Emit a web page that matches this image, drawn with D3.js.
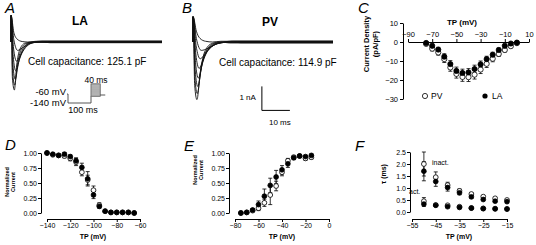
<!DOCTYPE html>
<html>
<head>
<meta charset="utf-8">
<script src="https://cdn.jsdelivr.net/npm/d3@7"></script>
<style>
body { margin: 0; background: #fff; }
svg { font-family: "Liberation Sans", Arial, sans-serif; }
.axis path, .axis line { stroke: #000; stroke-width: 1; }
.axis text { fill: #000; }
</style>
</head>
<body>
<svg id="fig" width="536" height="245"></svg>
<script>
// ---- data ----
// current traces, [ms, nA] points read off panels A and B
var laTraces = [
  [[0,0],[0.05,1.1],[1.0,0.4],[2.2,0.12],[4,0.02],[6,0]],
  [[0,0],[0.05,1.1],[1.0,0.1],[2.4,-0.35],[4.0,-0.25],[6.4,-0.08],[10,0]],
  [[0,0],[0.05,1.1],[0.9,-0.25],[2.0,-0.8],[3.6,-0.5],[5.7,-0.17],[8.5,-0.02],[12,0]],
  [[0,0],[0.05,1.1],[0.8,-0.6],[1.7,-1.2],[3.1,-0.7],[5,-0.22],[7.5,-0.03],[11,0]],
  [[0,0],[0.05,1.1],[0.7,-0.95],[1.5,-1.55],[2.7,-0.85],[4.3,-0.28],[6.6,-0.04],[10,0]],
  [[0,0],[0.05,1.1],[0.6,-1.25],[1.3,-1.8],[2.3,-0.95],[3.7,-0.3],[5.8,-0.05],[9,0]],
  [[0,0],[0.05,1.1],[0.5,-1.5],[1.2,-2.0],[2.0,-1.0],[3.2,-0.3],[5,-0.05],[8,0]]
];
var pvTraces = [
  [[0,0],[0.05,1.05],[1.2,0.45],[2.5,0.15],[4.5,0.03],[7,0]],
  [[0,0],[0.05,1.05],[1.2,0.15],[3.0,-0.35],[5.0,-0.28],[8,-0.1],[12,0]],
  [[0,0],[0.05,1.05],[1.1,-0.15],[2.6,-0.7],[4.5,-0.45],[7.2,-0.15],[11,-0.02],[15,0]],
  [[0,0],[0.05,1.05],[1.0,-0.5],[2.2,-1.1],[4.0,-0.6],[6.6,-0.2],[10,-0.03],[14,0]],
  [[0,0],[0.05,1.05],[0.9,-0.85],[1.9,-1.5],[3.6,-0.8],[6,-0.25],[9.5,-0.04],[13,0]],
  [[0,0],[0.05,1.05],[0.8,-1.2],[1.7,-1.85],[3.2,-0.95],[5.4,-0.3],[8.5,-0.05],[12,0]],
  [[0,0],[0.05,1.05],[0.7,-1.5],[1.5,-2.15],[2.9,-1.1],[4.9,-0.33],[7.8,-0.05],[11,0]],
  [[0,0],[0.05,1.05],[0.6,-1.8],[1.4,-2.4],[2.6,-1.25],[4.4,-0.35],[7,-0.05],[10,0]]
];
var laTailOff = [0.03, -0.02, 0.01, -0.03, 0.02, -0.01, 0.04];
var pvTailOff = [0.03, -0.02, 0.01, -0.03, 0.02, -0.01, 0.04, -0.04];
var laCap = "125.1", pvCap = "114.9";

// voltage protocol (mV, ms)
var protoHold = -60, protoPre = -140, protoPreDur = 100, protoTestDur = 40;
var protoSteps = [-80,-70,-60,-50,-40,-30,-20,-10,0,10,20,30];

// C: I-V
var cV = [-75,-70,-65,-60,-55,-50,-45,-40,-35,-30,-25,-20,-15,-10,-5,0];
var cLA = [-0.5,-2,-4,-7.7,-11.6,-15.2,-16.3,-16,-14.2,-11.8,-9,-6.7,-4.2,-2,-0.8,-0.3];
var cLAerr = [0.5,1,1.2,1.5,1.8,2,2,2,2,1.8,1.5,1.3,1.1,0.9,0.6,0.4];
var cPV = [-1,-3.5,-5.5,-9,-13.4,-16.8,-18.4,-18.5,-17.2,-14.5,-11.5,-8.8,-6.3,-4.2,-2.2,-0.6];
var cPVerr = [0.6,1.2,1.4,1.8,2,2.2,2.3,2.3,2.3,2.1,1.9,1.6,1.3,1.1,0.8,0.5];
var cXTicks = [-90,-70,-50,-30,-10,10];
var cYTicks = [-30,-20,-10,0,10];

// D: inactivation
var dV = [-140,-135,-130,-125,-120,-115,-110,-105,-100,-95,-90,-85,-80,-75,-70,-65];
var dLA = [1.00,0.98,0.96,0.98,0.94,0.87,0.76,0.57,0.30,0.11,0.03,0.01,0.01,0.01,0.01,0.00];
var dLAerr = [0,0.01,0.01,0.03,0.03,0.05,0.07,0.12,0.06,0.03,0.01,0,0,0,0,0];
var dPV = [1.00,0.97,0.96,0.95,0.91,0.85,0.68,0.55,0.38,0.13,0.03,0.01,0.01,0.01,0.01,0.00];
var dPVerr = [0,0.01,0.02,0.03,0.04,0.06,0.06,0.08,0.07,0.04,0.01,0,0,0,0,0];
var dXTicks = [-140,-120,-100,-80,-60];

// E: activation
var eV = [-75,-70,-65,-60,-55,-50,-45,-40,-35,-30,-25,-20,-15];
var eLA = [0.00,0.01,0.05,0.14,0.28,0.46,0.60,0.72,0.82,0.92,0.95,0.94,0.96];
var eLAerr = [0,0.01,0.02,0.06,0.12,0.12,0.11,0.07,0.06,0.03,0.02,0.02,0.02];
var ePV = [0.00,0.01,0.04,0.08,0.17,0.30,0.45,0.68,0.87,0.93,0.95,0.91,0.93];
var ePVerr = [0,0.01,0.02,0.04,0.06,0.16,0.08,0.06,0.04,0.03,0.02,0.03,0.03];
var eXTicks = [-80,-60,-40,-20,0];
var normTicks = [0,0.25,0.5,0.75,1];

// F: time constants
var fV = [-50,-45,-40,-35,-30,-25,-20,-15];
var fInactLA = [1.70,1.27,1.02,0.80,0.63,0.52,0.45,0.43];
var fInactLAerr = [0.4,0.2,0.15,0.08,0.05,0.04,0.04,0.04];
var fInactPV = [2.00,1.45,1.12,0.88,0.75,0.64,0.57,0.50];
var fInactPVerr = [0.5,0.22,0.12,0.08,0.05,0.04,0.04,0.04];
var fActLA = [0.33,0.28,0.22,0.19,0.16,0.14,0.13,0.12];
var fActLAerr = [0.1,0.04,0.03,0.02,0.02,0.02,0.02,0.02];
var fActPV = [0.45,0.29,0.28,0.22,0.17,0.15,0.14,0.13];
var fActPVerr = [0.15,0.04,0.03,0.02,0.02,0.02,0.02,0.02];
var fXTicks = [-55,-45,-35,-25,-15];
var fYTicks = [0,0.5,1,1.5,2,2.5];

var svg = d3.select("#fig");

function label(x, y, txt, size, opts) {
  opts = opts || {};
  var t = svg.append("text").attr("x", x).attr("y", y).text(txt)
    .attr("font-size", size)
    .attr("text-anchor", opts.anchor || "start");
  if (opts.bold) t.attr("font-weight", "bold");
  if (opts.italic) t.attr("font-style", "italic");
  if (opts.rotate) t.attr("transform", "rotate(-90," + x + "," + y + ")");
  return t;
}

// draws error bars + circles for one series
function errorDots(x, y, xs, vals, errs, filled, r) {
  var pts = xs.map(function(v, i) { return {x: v, y: vals[i], e: errs[i]}; });
  var g = svg.append("g");
  g.selectAll("line.eb").data(pts).enter().append("line")
    .attr("x1", d => x(d.x)).attr("x2", d => x(d.x))
    .attr("y1", d => y(d.y - d.e)).attr("y2", d => y(d.y + d.e))
    .attr("stroke", "#000").attr("stroke-width", 0.8);
  [-1, 1].forEach(function(s) {
    g.selectAll(null).data(pts.filter(d => d.e > 0)).enter().append("line")
      .attr("x1", d => x(d.x) - 2).attr("x2", d => x(d.x) + 2)
      .attr("y1", d => y(d.y + s * d.e)).attr("y2", d => y(d.y + s * d.e))
      .attr("stroke", "#000").attr("stroke-width", 0.8);
  });
  return function() {
    svg.append("g").selectAll("circle").data(pts).enter().append("circle")
      .attr("cx", d => x(d.x)).attr("cy", d => y(d.y)).attr("r", r)
      .attr("fill", filled ? "#000" : "#fff")
      .attr("stroke", "#000").attr("stroke-width", 0.8);
  };
}

function axis(gen, tx, ty, size) {
  var g = svg.append("g").attr("class", "axis")
    .attr("transform", "translate(" + tx + "," + ty + ")")
    .call(gen);
  g.attr("font-size", size).attr("font-family", null);
  return g;
}

// ---- A / B traces ----
var yTr = d3.scaleLinear().domain([0, -1]).range([42, 66]);
var xA = d3.scaleLinear().domain([0, 54]).range([11, 162]);
var xB = d3.scaleLinear().domain([0, 50]).range([193, 333]);

function drawTraces(traces, offs, x) {
  var tEnd = x.domain()[1];
  var line = d3.line().x(d => x(d[0])).y(d => yTr(d[1])).curve(d3.curveMonotoneX);
  traces.forEach(function(tr, i) {
    var last = tr[tr.length - 1][0];
    var pts = tr.concat([[last + 3, offs[i]], [tEnd, offs[i]]]);
    svg.append("path").attr("d", line(pts))
      .attr("fill", "none").attr("stroke", "#111").attr("stroke-width", 0.9);
  });
}
drawTraces(laTraces, laTailOff, xA);
drawTraces(pvTraces, pvTailOff, xB);

label(5, 13, "A", 15, {italic: true});
label(182, 13, "B", 15, {italic: true});
label(80, 25, "LA", 12, {bold: true, anchor: "middle"});
label(270, 26, "PV", 12, {bold: true, anchor: "middle"});
label(28, 65, "Cell capacitance: " + laCap + " pF", 10);
label(219, 66, "Cell capacitance: " + pvCap + " pF", 10);

// scale bar (1 nA, 10 ms)
var sbT = 24.6, sbI = -2.85;
svg.append("path")
  .attr("d", "M" + xB(sbT) + "," + yTr(sbI + 1) + "V" + yTr(sbI) + "H" + xB(sbT + 10))
  .attr("fill", "none").attr("stroke", "#000").attr("stroke-width", 1);
label(xB(sbT) - 6, 100, "1 nA", 8, {anchor: "end"});
label(xB(sbT + 5) + 4, 125, "10 ms", 8, {anchor: "middle"});

// voltage protocol
var xP = d3.scaleLinear().domain([0, 100]).range([68, 91]);
var yP = d3.scaleLinear().domain([-140, -60]).range([103, 94]);
var pTop = d3.max(protoSteps), pBot = d3.min(protoSteps);
svg.append("path")
  .attr("d", "M" + xP(-4) + "," + yP(protoHold) + "H" + xP(0) + "V" + yP(protoPre) +
        "H" + xP(protoPreDur) + "V" + yP(pBot))
  .attr("fill", "none").attr("stroke", "#444").attr("stroke-width", 0.9);
svg.append("rect")
  .attr("x", xP(protoPreDur)).attr("y", yP(pTop))
  .attr("width", xP(protoPreDur + protoTestDur) - xP(protoPreDur))
  .attr("height", yP(pBot) - yP(pTop))
  .attr("fill", "#c8c8c8").attr("stroke", "#555").attr("stroke-width", 0.8);
svg.append("g").selectAll("line").data(protoSteps).enter().append("line")
  .attr("x1", xP(protoPreDur)).attr("x2", xP(protoPreDur + protoTestDur))
  .attr("y1", d => yP(d)).attr("y2", d => yP(d))
  .attr("stroke", "#888").attr("stroke-width", 0.4);
svg.append("line")
  .attr("x1", xP(protoPreDur + protoTestDur)).attr("x2", xP(protoPreDur + protoTestDur + 22))
  .attr("y1", yP(protoHold) + 1).attr("y2", yP(protoHold) + 1)
  .attr("stroke", "#444").attr("stroke-width", 0.9);
label(66, 95, "-60 mV", 9.5, {anchor: "end"});
label(66, 106, "-140 mV", 9.5, {anchor: "end"});
label(96, 83, "40 ms", 8.5, {anchor: "middle"});
label(83, 113, "100 ms", 9, {anchor: "middle"});

// ---- C ----
var xC = d3.scaleLinear().domain([-90, 10]).range([408, 529]);
var yC = d3.scaleLinear().domain([-30, 10]).range([99, 23]);
axis(d3.axisTop(xC).tickValues(cXTicks).tickSize(3).tickPadding(2).tickSizeOuter(0), 0, yC(0), 7.5);
axis(d3.axisLeft(yC).tickValues(cYTicks).tickSize(3).tickPadding(2).tickSizeOuter(0), 403, 0, 7.5);
var pvC = errorDots(xC, yC, cV, cPV, cPVerr, false, 2.6);
var laC = errorDots(xC, yC, cV, cLA, cLAerr, true, 2.6);
pvC(); laC();
label(358, 13, "C", 15, {italic: true});
label(462, 25, "TP (mV)", 8, {bold: true, anchor: "middle"});
label(369, 44, "Current Density", 7.5, {bold: true, anchor: "middle", rotate: true});
label(378, 44, "(pA/pF)", 7.5, {bold: true, anchor: "middle", rotate: true});
svg.append("circle").attr("cx", 425).attr("cy", 96).attr("r", 2.6)
  .attr("fill", "#fff").attr("stroke", "#000").attr("stroke-width", 0.8);
label(431, 99, "PV", 8.5);
svg.append("circle").attr("cx", 485).attr("cy", 96).attr("r", 2.6).attr("fill", "#000");
label(492, 99, "LA", 8.5);

// ---- D ----
var xD = d3.scaleLinear().domain([-140, -60]).range([47, 140]);
var yN = d3.scaleLinear().domain([0, 1]).range([213, 153]);
axis(d3.axisBottom(xD).tickValues(dXTicks).tickSize(3).tickPadding(1).tickSizeOuter(0), 0, 219, 7);
axis(d3.axisLeft(yN).tickValues(normTicks).tickFormat(d3.format(".2f")).tickSize(3).tickPadding(1).tickSizeOuter(0), 41, 0, 7);
var pvD = errorDots(xD, yN, dV, dPV, dPVerr, false, 2.4);
var laD = errorDots(xD, yN, dV, dLA, dLAerr, true, 2.4);
pvD(); laD();
label(5, 150, "D", 15, {italic: true});
label(93, 239, "TP (mV)", 7, {bold: true, anchor: "middle"});
label(9, 182, "Normalized", 5.5, {bold: true, anchor: "middle", rotate: true});
label(15, 182, "Current", 5.5, {bold: true, anchor: "middle", rotate: true});

// ---- E ----
var xE = d3.scaleLinear().domain([-80, 0]).range([235, 329]);
axis(d3.axisBottom(xE).tickValues(eXTicks).tickSize(3).tickPadding(1).tickSizeOuter(0), 0, 219, 7);
axis(d3.axisLeft(yN).tickValues(normTicks).tickFormat(d3.format(".2f")).tickSize(3).tickPadding(1).tickSizeOuter(0), 229, 0, 7);
var pvE = errorDots(xE, yN, eV, ePV, ePVerr, false, 2.4);
var laE = errorDots(xE, yN, eV, eLA, eLAerr, true, 2.4);
pvE(); laE();
label(184, 151, "E", 15, {italic: true});
label(282, 239, "TP (mV)", 7, {bold: true, anchor: "middle"});
label(197, 170, "Normalized", 5.5, {bold: true, anchor: "middle", rotate: true});
label(203, 170, "Current", 5.5, {bold: true, anchor: "middle", rotate: true});

// ---- F ----
var xF = d3.scaleLinear().domain([-55, -15]).range([412, 507]);
var yF = d3.scaleLinear().domain([0, 2.5]).range([212, 152]);
axis(d3.axisBottom(xF).tickValues(fXTicks).tickSize(3).tickPadding(1).tickSizeOuter(0), 0, 219, 7);
axis(d3.axisLeft(yF).tickValues(fYTicks).tickFormat(d3.format(".1f")).tickSize(3).tickPadding(1).tickSizeOuter(0), 410, 0, 7);
var f1 = errorDots(xF, yF, fV, fInactPV, fInactPVerr, false, 2.4);
var f2 = errorDots(xF, yF, fV, fActPV, fActPVerr, false, 2.4);
var f3 = errorDots(xF, yF, fV, fInactLA, fInactLAerr, true, 2.4);
var f4 = errorDots(xF, yF, fV, fActLA, fActLAerr, true, 2.4);
f1(); f2(); f3(); f4();
label(355, 151, "F", 15, {italic: true});
label(459, 239, "TP (mV)", 7, {bold: true, anchor: "middle"});
label(386, 174, "\u03c4 (ms)", 7, {bold: true, anchor: "middle", rotate: true});
label(432, 165, "inact.", 7);
label(409, 194, "act.", 7);
</script>
</body>
</html>
